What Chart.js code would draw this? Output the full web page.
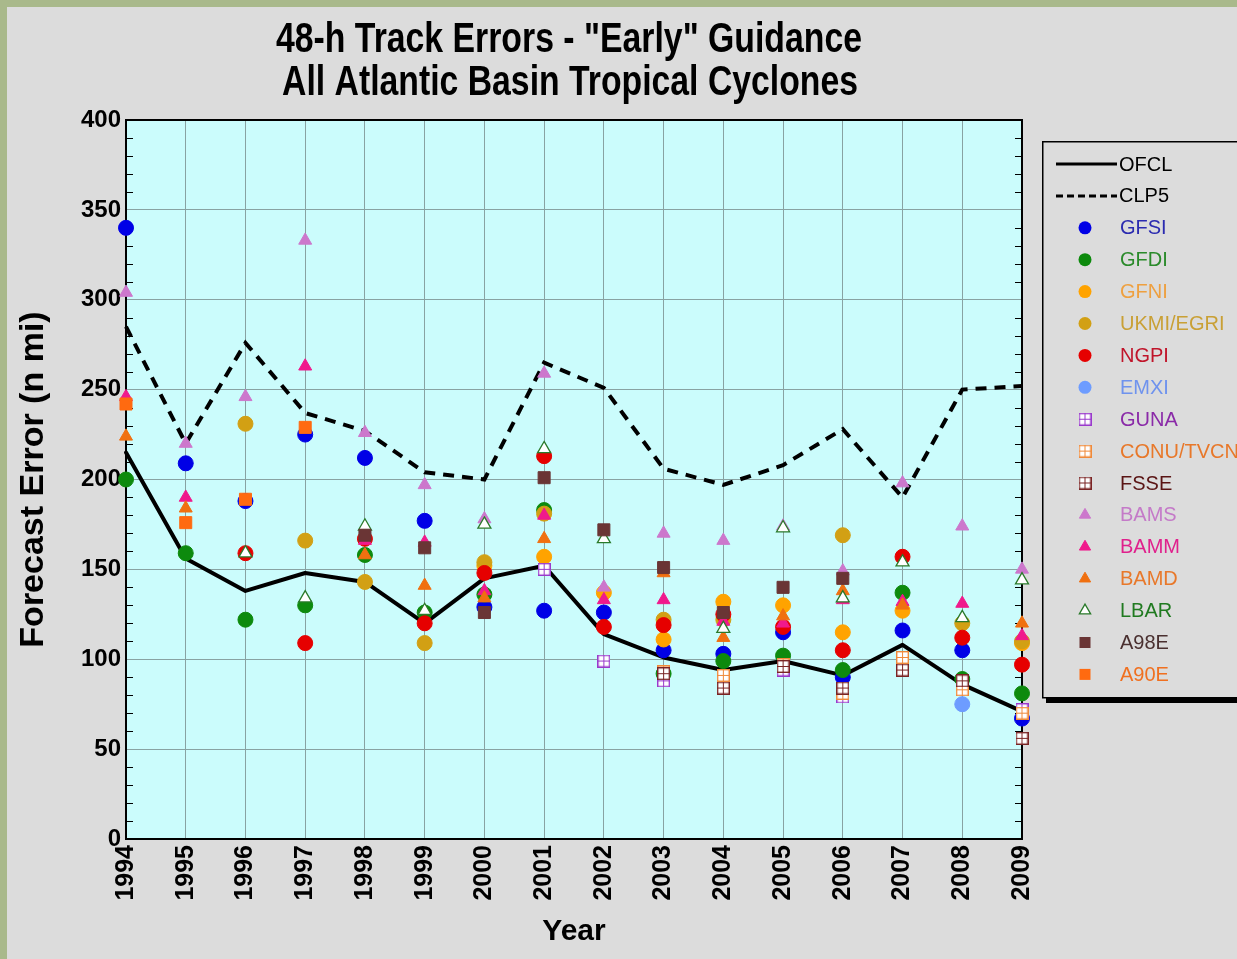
<!DOCTYPE html>
<html><head><meta charset="utf-8">
<script src="https://cdn.jsdelivr.net/npm/chart.js@4.4.1/dist/chart.umd.min.js"></script>
<style>
html,body{margin:0;padding:0;width:1237px;height:959px;overflow:hidden;background:#a9b98b;}
#panel{position:absolute;left:7px;top:7px;width:1230px;height:952px;background:#dcdcdc;}
#c{position:absolute;left:0;top:0;}
</style></head><body>
<div id="panel"></div>
<canvas id="c" width="1237" height="959"></canvas>
<script>
// ---------- data ----------
const years = ['1994','1995','1996','1997','1998','1999','2000','2001','2002','2003','2004','2005','2006','2007','2008','2009'];
const yTicks = [0,50,100,150,200,250,300,350,400];
const ofcl = [215,156,138,148,143,120,145,152,114,101,94,99,91,108,86,71];
const clp5 = [285,220,276,237,227,204,200,265,251,206,197,208,228,190,250,252];
const gfsi = [340,209,188,225,212,177,129,127,126,105,103,115,90,116,105,67];
const gfdi = [200,159,122,130,158,126,136,183,null,92,99,102,94,137,89,81];
const gfni = [null,null,null,null,null,null,152,157,137,111,132,130,115,127,null,109];
const ukmi = [null,null,231,166,143,109,154,181,null,122,122,null,169,null,120,110];
const ngpi = [null,null,159,109,167,120,148,213,118,119,125,118,105,157,112,97];
const emxi = [null,null,null,null,null,null,null,null,null,null,null,null,null,null,75,null];
const guna = [null,null,null,null,null,null,null,150,99,88,86,94,79,95,85,72];
const conu = [null,null,null,null,null,null,null,null,null,93,91,97,81,101,83,70];
const fsse = [null,null,null,null,null,null,null,null,null,92,84,96,84,94,88,56];
const bams = [304,220,246,333,226,197,178,259,140,170,166,174,149,198,174,150];
const bamm = [246,190,null,263,166,165,138,180,133,133,121,120,133,132,131,113];
const bamd = [224,184,null,null,158,141,134,167,null,148,112,124,138,130,null,120];
const lbar = [null,null,159,134,174,127,175,217,167,null,117,173,134,154,123,144];
const a98e = [null,null,null,null,169,162,126,201,172,151,126,140,145,null,null,null];
const a90e = [242,176,189,229,null,null,null,null,null,null,null,null,null,null,null,null];

// ---------- helpers ----------
const SANS = '"Liberation Sans", Arial, Helvetica, sans-serif';
function boxPlus(color){
  const s=13,c=document.createElement('canvas');c.width=s;c.height=s;
  const g=c.getContext('2d');g.fillStyle='#fff';g.fillRect(0,0,s,s);
  g.strokeStyle=color;g.lineWidth=1.4;g.strokeRect(0.7,0.7,s-1.4,s-1.4);
  g.lineWidth=1;g.beginPath();g.moveTo(6.5,1);g.lineTo(6.5,s-1);g.moveTo(1,6.5);g.lineTo(s-1,6.5);g.stroke();
  return c;
}

const markerSets = [
  {label:'GFSI', data:gfsi, style:'circle', fill:'#0000e6', stroke:'#0000e6', bw:1, r:7.5, text:'#2b2bb0'},
  {label:'GFDI', data:gfdi, style:'circle', fill:'#0d8a0d', stroke:'#0d8a0d', bw:1, r:7.5, text:'#2a8a2a'},
  {label:'GFNI', data:gfni, style:'circle', fill:'#ffa300', stroke:'#ffa300', bw:1, r:7.5, text:'#eea040'},
  {label:'UKMI/EGRI', data:ukmi, style:'circle', fill:'#d2a014', stroke:'#d2a014', bw:1, r:7.5, text:'#c9a035'},
  {label:'NGPI', data:ngpi, style:'circle', fill:'#e60000', stroke:'#e60000', bw:1, r:7.5, text:'#c0142a'},
  {label:'EMXI', data:emxi, style:'circle', fill:'#6d9cff', stroke:'#6d9cff', bw:1, r:7.5, text:'#6f93ee'},
  {label:'GUNA', data:guna, style:boxPlus('#9a3acc'), fill:'#fff', stroke:'#9a3acc', bw:1, r:7, text:'#8a2aa8'},
  {label:'CONU/TVCN', data:conu, style:boxPlus('#f08a3a'), fill:'#fff', stroke:'#f08a3a', bw:1, r:7, text:'#e8782a'},
  {label:'FSSE', data:fsse, style:boxPlus('#7a2424'), fill:'#fff', stroke:'#7a2424', bw:1, r:7, text:'#5a1414'},
  {label:'BAMS', data:bams, style:'triangle', fill:'#cc77cc', stroke:'#cc77cc', bw:1, r:7.5, text:'#c47ac8'},
  {label:'BAMM', data:bamm, style:'triangle', fill:'#f0198c', stroke:'#f0198c', bw:1, r:7.5, text:'#e0208c'},
  {label:'BAMD', data:bamd, style:'triangle', fill:'#f07010', stroke:'#f07010', bw:1, r:7.5, text:'#e8782a'},
  {label:'LBAR', data:lbar, style:'triangle', fill:'#ffffff', stroke:'#2a7a2a', bw:1.3, r:7.5, text:'#207a20'},
  {label:'A98E', data:a98e, style:'rect', fill:'#6a3535', stroke:'#6a3535', bw:1, r:8.5, text:'#4a3030'},
  {label:'A90E', data:a90e, style:'rect', fill:'#ff6a10', stroke:'#ff6a10', bw:1, r:8.5, text:'#f07020'}
];

const datasets = [
  {label:'OFCL', data:ofcl, borderColor:'#000', borderWidth:4, pointRadius:0, order:100, clip:false, borderJoinStyle:'round', borderCapStyle:'round'},
  {label:'CLP5', data:clp5, borderColor:'#000', borderWidth:4, borderDash:[11,8], pointRadius:0, order:99, clip:false}
].concat(markerSets.map((s,i)=>({
  label:s.label, data:s.data, showLine:false, pointStyle:s.style, pointRadius:s.r,
  pointBackgroundColor:s.fill, pointBorderColor:s.stroke, pointBorderWidth:s.bw,
  order:50-i, clip:false
})));

// ---------- plugins ----------
const frame = {
  id:'frame',
  beforeDraw(chart){
    const {ctx,chartArea:a}=chart; ctx.save();
    ctx.fillStyle='#cbfcfc'; ctx.fillRect(a.left,a.top,a.right-a.left,a.bottom-a.top);
    ctx.restore();
  },
  beforeDatasetsDraw(chart){
    const {ctx,chartArea:a}=chart; const y=chart.scales.y; ctx.save();
    ctx.strokeStyle='#000'; ctx.lineWidth=1;
    ctx.beginPath();
    for(let v=10; v<400; v+=10){ if(v%50===0) continue;
      const p=Math.round(y.getPixelForValue(v))+0.5;
      ctx.moveTo(a.left,p); ctx.lineTo(a.left+7,p);
      ctx.moveTo(a.right,p); ctx.lineTo(a.right-7,p);
    }
    ctx.stroke();
    ctx.lineWidth=2; ctx.strokeRect(a.left,a.top,a.right-a.left,a.bottom-a.top);
    ctx.restore();
  },
  afterDraw(chart){
    const ctx=chart.ctx; ctx.save();
    ctx.fillStyle='#000'; ctx.textAlign='center'; ctx.textBaseline='alphabetic';
    const lines=[['48-h Track Errors - "Early" Guidance',569,52,586],['All Atlantic Basin Tropical Cyclones',570,95,576]];
    for(const [t,cx,by,tw] of lines){
      ctx.font='bold 42px '+SANS; const w=ctx.measureText(t).width;
      ctx.save(); ctx.translate(cx,by); ctx.scale(tw/w,1); ctx.fillText(t,0,0); ctx.restore();
    }
    const bx=1042,by=141,bw=240,bh=556;
    ctx.fillStyle='#000'; ctx.fillRect(bx+4,by+5,bw,bh+1);
    ctx.fillStyle='#dcdcdc'; ctx.fillRect(bx,by,bw,bh);
    ctx.strokeStyle='#000'; ctx.lineWidth=1.5; ctx.strokeRect(bx+0.75,by+0.75,bw,bh);
    ctx.font='20px '+SANS; ctx.textAlign='left'; ctx.textBaseline='middle';
    chart.data.datasets.forEach((ds,i)=>{
      const ry=164+i*31.9;
      if(i<2){
        ctx.strokeStyle='#000'; ctx.lineWidth=3; ctx.setLineDash(i===1?[7,4]:[]);
        ctx.beginPath(); ctx.moveTo(1056,ry); ctx.lineTo(1117,ry); ctx.stroke(); ctx.setLineDash([]);
        ctx.fillStyle='#000'; ctx.fillText(ds.label,1119,ry+1);
      } else {
        const s=markerSets[i-2], x=1085;
        ctx.fillStyle=s.fill; ctx.strokeStyle=s.stroke; ctx.lineWidth=s.bw;
        if(typeof s.style!=='string'){ ctx.drawImage(s.style,x-6.5,ry-6.5); }
        else if(s.style==='circle'){ ctx.beginPath(); ctx.arc(x,ry,6.5,0,Math.PI*2); ctx.fill(); }
        else if(s.style==='triangle'){ const r=6.5; ctx.beginPath();
          ctx.moveTo(x,ry-r); ctx.lineTo(x+r*0.866,ry+r/2); ctx.lineTo(x-r*0.866,ry+r/2); ctx.closePath(); ctx.fill(); ctx.stroke(); }
        else { ctx.fillRect(x-5.5,ry-5.5,11,11); }
        ctx.fillStyle=s.text; ctx.fillText(ds.label,1120,ry+1);
      }
    });
    ctx.restore();
  }
};

new Chart(document.getElementById('c'), {
  type:'line',
  data:{labels:years, datasets},
  options:{
    responsive:false, animation:false, events:[], devicePixelRatio:1,
    layout:{padding:{left:13, right:215, top:120, bottom:9}},
    plugins:{legend:{display:false}, title:{display:false}, tooltip:{enabled:false}},
    scales:{
      x:{
        type:'category', offset:false,
        grid:{color:'#88a2a2', lineWidth:1, drawTicks:false},
        border:{display:false},
        ticks:{color:'#000', font:{family:SANS, size:25, weight:'bold'}, minRotation:90, maxRotation:90, padding:6, autoSkip:false},
        title:{display:true, text:'Year', color:'#000', font:{family:SANS, size:30, weight:'bold'}, padding:0},
        afterFit(s){ s.height=111; }
      },
      y:{
        min:0, max:400,
        afterBuildTicks(s){ s.ticks = yTicks.map(v=>({value:v})); },
        grid:{color:'#88a2a2', lineWidth:1, drawTicks:false},
        border:{display:false},
        ticks:{color:'#000', font:{family:SANS, size:24, weight:'bold'}, padding:5},
        title:{display:true, text:'Forecast Error (n mi)', color:'#000', font:{family:SANS, size:34, weight:'bold'}, padding:0},
        afterFit(s){ s.width=113; }
      }
    }
  },
  plugins:[frame]
});
</script>
</body></html>
